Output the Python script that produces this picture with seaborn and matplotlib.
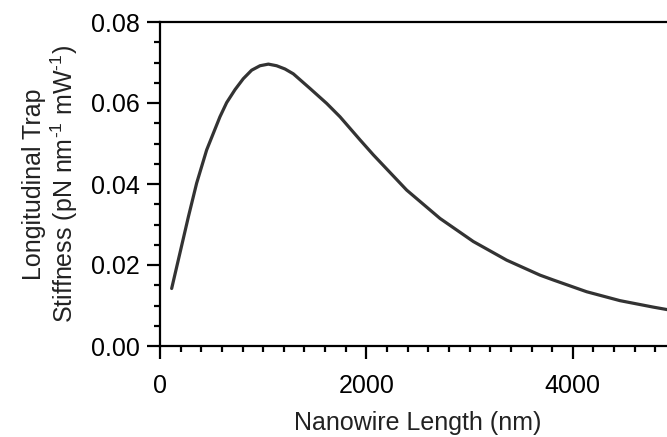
import matplotlib
matplotlib.use("Agg")
import matplotlib.pyplot as plt
import seaborn as sns
import pandas as pd
from matplotlib.ticker import MultipleLocator, FormatStrFormatter

# Data
length_nm = [113, 200, 275, 355, 452, 581, 646, 727, 807, 888, 969, 1050, 1130,
             1211, 1292, 1453, 1615, 1744, 1938, 2067, 2390, 2713, 3036, 3359,
             3682, 3811, 4134, 4457, 4780, 5000]
stiffness = [0.0142, 0.0237, 0.0319, 0.0402, 0.0484, 0.0566, 0.0601, 0.0633,
             0.0660, 0.0681, 0.0692, 0.0696, 0.0692, 0.0684, 0.0672, 0.0636,
             0.0599, 0.0566, 0.0509, 0.0472, 0.0385, 0.0315, 0.0258, 0.0212,
             0.0175, 0.0163, 0.0134, 0.0112, 0.0096, 0.0086]

xticks = [0, 2000, 4000]
yticks = [0.00, 0.02, 0.04, 0.06, 0.08]

sns.set_theme(style="ticks")
plt.rcParams['font.family'] = ['Liberation Sans', 'DejaVu Sans']
plt.rcParams['mathtext.fontset'] = 'custom'
plt.rcParams['mathtext.rm'] = 'Liberation Sans'
plt.rcParams['mathtext.it'] = 'Liberation Sans:italic'
plt.rcParams['mathtext.bf'] = 'Liberation Sans:bold'

df = pd.DataFrame({"Nanowire Length (nm)": length_nm, "Stiffness": stiffness})

fig = plt.figure(figsize=(6.67, 4.37), dpi=100)
ax = fig.add_axes([160/667, (437-346)/437, (676-160)/667, 324/437])

sns.lineplot(data=df, x="Nanowire Length (nm)", y="Stiffness", ax=ax,
             color="#333333", linewidth=2.3)

ax.set_xlim(0, 5000)
ax.set_ylim(0, 0.08)
ax.set_xticks(xticks)
ax.set_yticks(yticks)
ax.yaxis.set_major_formatter(FormatStrFormatter('%.2f'))
ax.xaxis.set_minor_locator(MultipleLocator(200))
ax.yaxis.set_minor_locator(MultipleLocator(0.005))

for side in ["left", "bottom", "top", "right"]:
    ax.spines[side].set_visible(True)
    ax.spines[side].set_linewidth(1.6)
    ax.spines[side].set_color("black")

ax.tick_params(axis='both', which='major', direction='out', length=9.5, width=1.6,
               labelsize=18, colors='black')
ax.tick_params(axis='both', which='minor', direction='out', length=4.5, width=1.6,
               colors='black')
ax.tick_params(axis='x', which='major', pad=11)
ax.tick_params(axis='y', which='major', pad=5)
ax.tick_params(axis='x', which='both', top=False)
ax.tick_params(axis='y', which='both', right=False)

ax.set_xlabel("Nanowire Length (nm)", fontsize=18, labelpad=9, color='#222222')
ax.set_ylabel("Longitudinal Trap\nStiffness (pN nm$^{\mathrm{\u20101}}$ mW$^{\mathrm{\u20101}}$)",
              fontsize=18, labelpad=8, color='#222222', linespacing=1.1)

fig.savefig("out.png", dpi=100)
